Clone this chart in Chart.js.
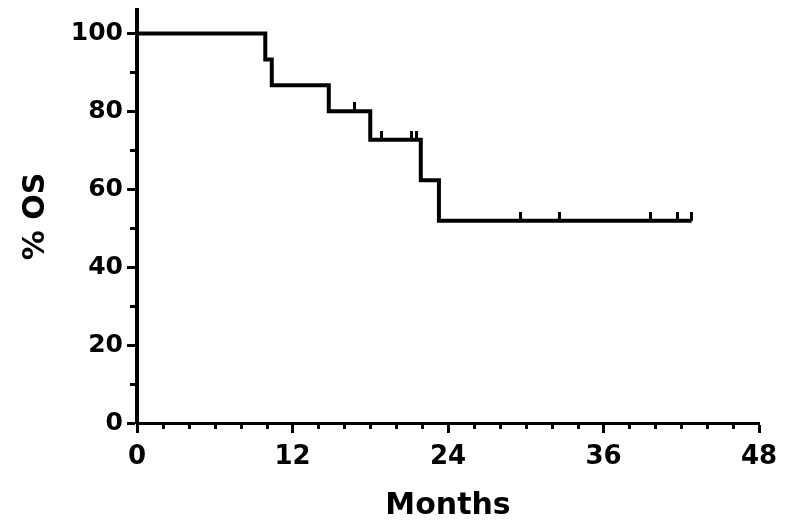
<!DOCTYPE html>
<html>
<head>
<meta charset="utf-8">
<script src="https://cdn.jsdelivr.net/npm/chart.js@4.4.1/dist/chart.umd.min.js"></script>
<style>
  body { margin: 0; background: #fff; }
  #wrap { width: 790px; height: 531px; }
</style>
</head>
<body>
<div id="wrap"><canvas id="osChart"></canvas></div>
<script>
// Kaplan-Meier overall survival
const eventMonths = [0, 9.9, 10.4, 14.8, 18.0, 21.9, 23.3, 42.8];
const survival    = [100, 93.3, 86.7, 80.0, 72.7, 62.3, 51.9, 51.9];
const censorMonths = [16.8, 18.9, 21.2, 21.6, 29.6, 32.6, 39.6, 41.7, 42.8];

const xTicks = [0, 12, 24, 36, 48];
const yTicks = [0, 20, 40, 60, 80, 100];
const xMinorTicks = [2, 4, 6, 8, 10, 14, 16, 18, 20, 22, 26, 28, 30, 32, 34, 38, 40, 42, 44, 46];
const yMinorTicks = [10, 30, 50, 70, 90];

// survival level in effect at month t
function levelAt(t) {
  let s = survival[0];
  for (let i = 0; i < eventMonths.length; i++) {
    if (eventMonths[i] <= t) s = survival[i];
  }
  return s;
}

const curve = eventMonths.map((m, i) => ({ x: m, y: survival[i] }));
const censored = censorMonths.map(m => ({ x: m, y: levelAt(m) }));

// censor mark: short vertical bar rising from the line
const mark = document.createElement('canvas');
mark.width = 3;
mark.height = 18;
{
  const c = mark.getContext('2d');
  c.fillStyle = '#000';
  c.fillRect(0, 0, 3, 9);
}

const fontName = '"DejaVu Sans", sans-serif';

const minorTicks = {
  id: 'minorTicks',
  afterDraw(chart) {
    const ctx = chart.ctx;
    const xs = chart.scales.x, ys = chart.scales.y;
    const area = chart.chartArea;
    ctx.save();
    ctx.strokeStyle = '#000';
    ctx.lineWidth = 3;
    ctx.beginPath();
    xMinorTicks.forEach(v => {
      const px = Math.round(xs.getPixelForValue(v)) + 0.5;
      ctx.moveTo(px, area.bottom);
      ctx.lineTo(px, area.bottom + 6);
    });
    yMinorTicks.forEach(v => {
      const py = Math.round(ys.getPixelForValue(v)) + 0.5;
      ctx.moveTo(area.left, py);
      ctx.lineTo(area.left - 7, py);
    });
    ctx.stroke();
    ctx.restore();
  }
};

new Chart(document.getElementById('osChart'), {
  type: 'line',
  data: {
    datasets: [{
      label: 'OS',
      data: curve,
      stepped: 'before',
      borderColor: '#000',
      borderWidth: 4,
      borderJoinStyle: 'miter',
      borderCapStyle: 'butt',
      pointRadius: 0,
      fill: false
    }, {
      label: 'Censored',
      data: censored,
      showLine: false,
      pointStyle: mark,
      pointRadius: 9,
      pointHoverRadius: 9
    }]
  },
  options: {
    responsive: true,
    maintainAspectRatio: false,
    animation: false,
    layout: { padding: { left: 0, right: 31, top: 8, bottom: 0 } },
    plugins: {
      legend: { display: false },
      tooltip: { enabled: false }
    },
    scales: {
      x: {
        type: 'linear',
        min: 0,
        max: 48,
        afterBuildTicks: s => { s.ticks = xTicks.map(v => ({ value: v })); },
        afterFit: s => { s.height = 108; s.paddingLeft = 0; s.paddingRight = 0; },
        ticks: {
          color: '#000',
          padding: 9,
          maxRotation: 0,
          autoSkip: false,
          font: { family: fontName, size: 26, weight: 'bold' }
        },
        grid: {
          drawOnChartArea: false,
          color: '#000',
          tickLength: 10,
          tickWidth: 3
        },
        border: { color: '#000', width: 3 },
        title: {
          display: true,
          text: 'Months',
          color: '#000',
          padding: { top: 0, bottom: 7 },
          font: { family: fontName, size: 30, weight: 'bold' }
        }
      },
      y: {
        type: 'linear',
        min: 0,
        max: 106,
        afterBuildTicks: s => { s.ticks = yTicks.map(v => ({ value: v })); },
        afterFit: s => { s.width = 137; s.paddingTop = 0; s.paddingBottom = 0; },
        ticks: {
          color: '#000',
          padding: 4,
          font: { family: fontName, size: 25, weight: 'bold' }
        },
        grid: {
          drawOnChartArea: false,
          color: '#000',
          tickLength: 10,
          tickWidth: 3
        },
        border: { color: '#000', width: 4 },
        title: {
          display: true,
          text: '% OS',
          color: '#000',
          padding: { top: 18, bottom: 0 },
          font: { family: fontName, size: 30, weight: 'bold' }
        }
      }
    }
  },
  plugins: [minorTicks]
});
</script>
</body>
</html>
